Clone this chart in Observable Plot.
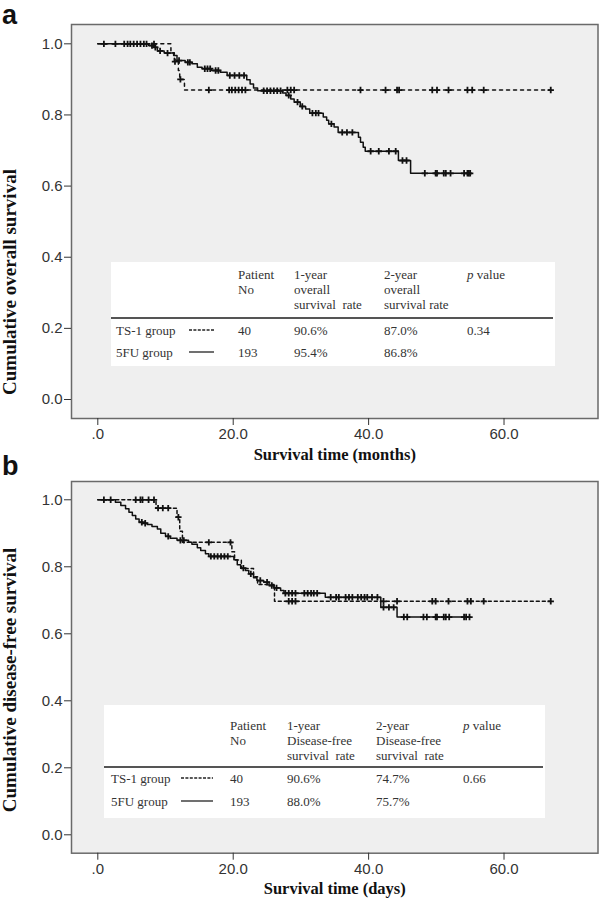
<!DOCTYPE html>
<html><head><meta charset="utf-8">
<script src="https://cdn.jsdelivr.net/npm/d3@7"></script>
<script src="https://cdn.jsdelivr.net/npm/@observablehq/plot@0.6"></script>
<style>
body{margin:0;background:#fff;}
#page{position:relative;width:600px;height:899px;overflow:hidden;background:#fff;}
.panel{position:absolute;left:0;}
.tbl{position:absolute;background:#fff;}
.tt{position:absolute;font-family:"Liberation Serif","Times New Roman",serif;font-size:13px;color:#333;white-space:pre;line-height:1;transform:translateY(-50%);}
.rule{position:absolute;height:1.5px;background:#555;}
.plabel{position:absolute;font-family:"Liberation Sans",Arial,sans-serif;font-weight:bold;font-size:27px;line-height:1;color:#111;}
.ytitle{position:absolute;font-family:"Liberation Serif","Times New Roman",serif;font-weight:bold;font-size:19px;line-height:0.8;color:#111;white-space:nowrap;transform:translate(-50%,-50%) rotate(-90deg);}
</style></head><body><div id="page"></div>
<script>
// ---------- axis ticks ----------
const xTicks = [0, 20, 40, 60];
const xTickLabels = [".0", "20.0", "40.0", "60.0"];
const yTicks = [0, 0.2, 0.4, 0.6, 0.8, 1.0];
const yTickLabels = ["0.0", "0.2", "0.4", "0.6", "0.8", "1.0"];

// ---------- panel a: overall survival (months) ----------
const osTs1Time = [0, 10.8, 11.3, 11.9, 12.1, 12.8, 66.9];
const osTs1Surv = [1, 0.975, 0.95, 0.925, 0.9, 0.87, 0.87];
const osTs1Censor = [8.3, 11.4, 12.2, 16.4, 19.4, 19.8, 20.3, 20.8, 21.3, 21.8, 28.0, 28.5, 29.0, 38.8, 42.5, 44.2, 44.5, 49.4, 50.1, 51.8, 54.6, 55.3, 57.0, 66.9];

const os5fuTime = [0, 7.5, 8.3, 8.8, 9.8, 11.2, 11.7, 12.9, 13.9, 14.7, 15.4, 16.8, 18.1, 19.1, 22.0, 22.5, 23.0, 23.6, 27.3, 27.8, 28.5, 29.0, 29.9, 30.7, 31.3, 33.3, 33.8, 34.1, 34.9, 35.5, 38.5, 38.8, 39.2, 39.5, 44.4, 46.2, 55.0];
const os5fuSurv = [1, 0.995, 0.99, 0.98, 0.974, 0.967, 0.953, 0.948, 0.944, 0.934, 0.93, 0.925, 0.92, 0.911, 0.899, 0.887, 0.876, 0.868, 0.862, 0.855, 0.845, 0.836, 0.824, 0.817, 0.805, 0.794, 0.785, 0.775, 0.766, 0.751, 0.737, 0.723, 0.709, 0.698, 0.672, 0.636, 0.636];
const os5fuCensor = [0.9, 2.6, 3.9, 4.4, 4.8, 5.3, 5.8, 6.3, 6.8, 7.2, 8.0, 8.5, 9.2, 10.3, 12.0, 13.3, 13.6, 15.8, 16.2, 16.6, 17.4, 17.8, 19.5, 20.2, 20.9, 21.6, 24.5, 25.0, 25.5, 26.0, 26.5, 27.0, 28.2, 29.5, 30.2, 31.7, 32.2, 32.6, 34.5, 36.1, 36.8, 37.6, 40.3, 41.5, 43.0, 44.0, 45.0, 45.6, 48.3, 49.9, 50.1, 51.1, 51.4, 52.1, 54.1, 54.6, 54.8, 55.0];

// ---------- panel b: disease-free survival ----------
const dfsTs1Time = [0, 8.6, 11.7, 12.1, 12.5, 19.8, 20.2, 21.2, 23.0, 23.6, 26.1, 66.9];
const dfsTs1Surv = [1, 0.975, 0.948, 0.906, 0.873, 0.845, 0.82, 0.795, 0.77, 0.747, 0.697, 0.697];
const dfsTs1Censor = [5.6, 6.3, 6.6, 7.5, 8.3, 8.9, 9.6, 10.4, 11.9, 16.4, 19.6, 28.2, 28.7, 29.2, 42.2, 44.2, 49.4, 49.9, 51.8, 54.6, 55.1, 57.0, 66.9];

const dfs5fuTime = [0, 2.6, 3.4, 4.1, 4.6, 5.1, 5.6, 6.1, 6.6, 7.3, 8.0, 8.8, 9.3, 10.0, 10.7, 11.7, 13.4, 13.9, 14.7, 15.2, 15.9, 16.4, 20.1, 20.6, 21.1, 21.8, 22.3, 23.0, 23.5, 24.5, 25.3, 26.0, 27.0, 27.5, 33.6, 41.8, 44.2, 55.0];
const dfs5fuSurv = [1, 0.993, 0.983, 0.973, 0.963, 0.953, 0.943, 0.933, 0.93, 0.926, 0.92, 0.913, 0.9, 0.891, 0.885, 0.879, 0.873, 0.867, 0.857, 0.849, 0.839, 0.831, 0.821, 0.806, 0.796, 0.789, 0.779, 0.767, 0.759, 0.754, 0.744, 0.737, 0.729, 0.721, 0.709, 0.679, 0.65, 0.65];
const dfs5fuCensor = [0.9, 1.9, 6.5, 7.0, 10.4, 12.2, 12.7, 16.7, 17.2, 17.7, 18.2, 18.7, 19.2, 21.5, 22.6, 24.0, 25.0, 25.7, 26.4, 27.7, 28.2, 28.7, 29.2, 30.5, 31.0, 31.5, 31.9, 32.4, 34.4, 35.2, 35.6, 36.6, 37.1, 37.6, 38.4, 38.9, 39.4, 39.8, 40.5, 41.3, 42.2, 43.0, 43.7, 45.2, 45.7, 48.1, 48.6, 49.9, 50.1, 51.1, 51.4, 51.9, 54.1, 54.4, 54.9];

// ---------- tables ----------
const tableHeaderA = [["Patient", "No"], ["1-year", "overall", "survival  rate"], ["2-year", "overall", "survival rate"]];
const tableHeaderB = [["Patient", "No"], ["1-year", "Disease-free", "survival  rate"], ["2-year", "Disease-free", "survival  rate"]];
const groupNames = ["TS-1 group", "5FU group"];
const patientNo = ["40", "193"];
const oneYearA = ["90.6%", "95.4%"];
const twoYearA = ["87.0%", "86.8%"];
const pValueA = ["0.34", ""];
const oneYearB = ["90.6%", "88.0%"];
const twoYearB = ["74.7%", "75.7%"];
const pValueB = ["0.66", ""];

// ---------- helpers ----------
function stepData(times, survs) { return times.map((t, i) => ({t, s: survs[i]})); }
function survAt(times, survs, t) {
  let k = 0;
  for (let i = 0; i < times.length; i++) if (times[i] <= t) k = i;
  return survs[k];
}
function censorData(cs, times, survs) { return cs.map(t => ({t, s: survAt(times, survs, t)})); }

const page = document.getElementById("page");

function makePanel(cfg) {
  const svg = Plot.plot({
    width: 600, height: cfg.height,
    marginTop: cfg.marginTop, marginBottom: cfg.marginBottom, marginLeft: 71, marginRight: 2.5,
    x: {domain: [-3.885, 73.88]},
    y: {domain: cfg.yDomain},
    style: {fontFamily: "'Liberation Sans', Arial, sans-serif", fontSize: "15px", color: "#333", background: "transparent", overflow: "visible"},
    marks: [
      Plot.frame({fill: "#efefef", stroke: null}),
      Plot.line(stepData(cfg.ts1Time, cfg.ts1Surv), {x: "t", y: "s", curve: "step-after", stroke: "#111", strokeWidth: 1.5, strokeDasharray: cfg.dash}),
      Plot.line(stepData(cfg.fuTime, cfg.fuSurv), {x: "t", y: "s", curve: "step-after", stroke: "#111", strokeWidth: 1.5}),
      Plot.dot(censorData(cfg.ts1Censor, cfg.ts1Time, cfg.ts1Surv), {x: "t", y: "s", symbol: "plus", r: 2.2, fill: "none", stroke: "#111", strokeWidth: 1.8}),
      Plot.dot(censorData(cfg.fuCensor, cfg.fuTime, cfg.fuSurv), {x: "t", y: "s", symbol: "plus", r: 2.2, fill: "none", stroke: "#111", strokeWidth: 1.8}),
      Plot.frame({stroke: "#6a6a6a", strokeWidth: 1.5}),
      Plot.axisX({ticks: xTicks, tickFormat: d => xTickLabels[xTicks.indexOf(d)], tickSize: 7, tickPadding: 3, label: null}),
      Plot.axisY({ticks: yTicks, tickFormat: d => yTickLabels[yTicks.indexOf(d)], tickSize: 7, tickPadding: 2, label: null}),
      Plot.text([cfg.xTitle], {text: d => d, frameAnchor: "bottom", dy: 36, lineAnchor: "middle", fontFamily: "'Liberation Serif', 'Times New Roman', serif", fontWeight: "bold", fontSize: 16.5, fill: "#111"})
    ]
  });
  const wrap = document.createElement("div");
  wrap.className = "panel";
  wrap.style.top = cfg.top + "px";
  wrap.appendChild(svg);
  page.appendChild(wrap);
  const yt = document.createElement("div");
  yt.className = "ytitle";
  yt.textContent = cfg.yTitle;
  yt.style.left = "10px";
  yt.style.top = cfg.yTitleY + "px";
  page.appendChild(yt);
}

function addText(txt, x, y, italicP) {
  const d = document.createElement("div");
  d.className = "tt";
  d.style.left = x + "px";
  d.style.top = y + "px";
  if (italicP) { d.innerHTML = "<i>p</i> value"; } else { d.textContent = txt; }
  page.appendChild(d);
}

function legendLine(x1, x2, y, dashed) {
  const ns = "http://www.w3.org/2000/svg";
  const s = document.createElementNS(ns, "svg");
  s.setAttribute("width", x2 - x1);
  s.setAttribute("height", 4);
  s.style.position = "absolute";
  s.style.left = x1 + "px";
  s.style.top = (y - 2) + "px";
  const l = document.createElementNS(ns, "line");
  l.setAttribute("x1", 0); l.setAttribute("x2", x2 - x1);
  l.setAttribute("y1", 2); l.setAttribute("y2", 2);
  l.setAttribute("stroke", "#222");
  l.setAttribute("stroke-width", dashed ? 1.6 : 1.3);
  if (dashed) l.setAttribute("stroke-dasharray", "3,1.4");
  s.appendChild(l);
  page.appendChild(s);
}

function makeTable(t) {
  const box = document.createElement("div");
  box.className = "tbl";
  box.style.left = t.left + "px"; box.style.top = t.top + "px";
  box.style.width = (t.right - t.left) + "px"; box.style.height = (t.bottom - t.top) + "px";
  page.appendChild(box);
  const hx = [t.cols[1], t.cols[2], t.cols[3]];
  t.header.forEach((lines, j) => lines.forEach((ln, k) => addText(ln, hx[j], t.headY[k])));
  addText("", t.cols[4], t.headY[0], true);
  const r = document.createElement("div");
  r.className = "rule";
  r.style.left = t.left + "px"; r.style.width = (t.right - t.left - 2) + "px"; r.style.top = t.ruleY + "px";
  page.appendChild(r);
  t.names.forEach((nm, i) => {
    const y = t.rowY[i];
    addText(nm, t.nameX, y);
    legendLine(t.legX[0], t.legX[1], y, i === 0);
    addText(t.n[i], t.cols[1], y);
    addText(t.one[i], t.cols[2], y);
    addText(t.two[i], t.cols[3], y);
    if (t.p[i]) addText(t.p[i], t.cols[4], y);
  });
}

function panelLabel(ch, x, y) {
  const d = document.createElement("div");
  d.className = "plabel"; d.textContent = ch;
  d.style.left = x + "px"; d.style.top = y + "px";
  page.appendChild(d);
}

makePanel({
  top: 0, height: 470, marginTop: 24, marginBottom: 52, yDomain: [-0.0534, 1.0543],
  ts1Time: osTs1Time, ts1Surv: osTs1Surv, ts1Censor: osTs1Censor,
  fuTime: os5fuTime, fuSurv: os5fuSurv, fuCensor: os5fuCensor,
  dash: "3,4", xTitle: "Survival time (months)", yTitle: "Cumulative overall survival", yTitleY: 282
});
makePanel({
  top: 465, height: 434, marginTop: 16, marginBottom: 46.3, yDomain: [-0.0549, 1.0546],
  ts1Time: dfsTs1Time, ts1Surv: dfsTs1Surv, ts1Censor: dfsTs1Censor,
  fuTime: dfs5fuTime, fuSurv: dfs5fuSurv, fuCensor: dfs5fuCensor,
  dash: "3,3", xTitle: "Survival time (days)", yTitle: "Cumulative disease-free survival", yTitleY: 680
});

makeTable({
  left: 110.7, top: 262, right: 555, bottom: 366,
  cols: [0, 238, 294, 384, 467], nameX: 116, legX: [189, 214],
  headY: [274, 289, 304], ruleY: 317, rowY: [330, 352],
  header: tableHeaderA, names: groupNames, n: patientNo, one: oneYearA, two: twoYearA, p: pValueA
});
makeTable({
  left: 104, top: 705, right: 545, bottom: 818,
  cols: [0, 230, 287, 376, 463], nameX: 111, legX: [181, 213],
  headY: [725, 740, 755], ruleY: 766, rowY: [778, 801],
  header: tableHeaderB, names: groupNames, n: patientNo, one: oneYearB, two: twoYearB, p: pValueB
});

panelLabel("a", 2, 2);
panelLabel("b", 2, 453);
</script></body></html>
